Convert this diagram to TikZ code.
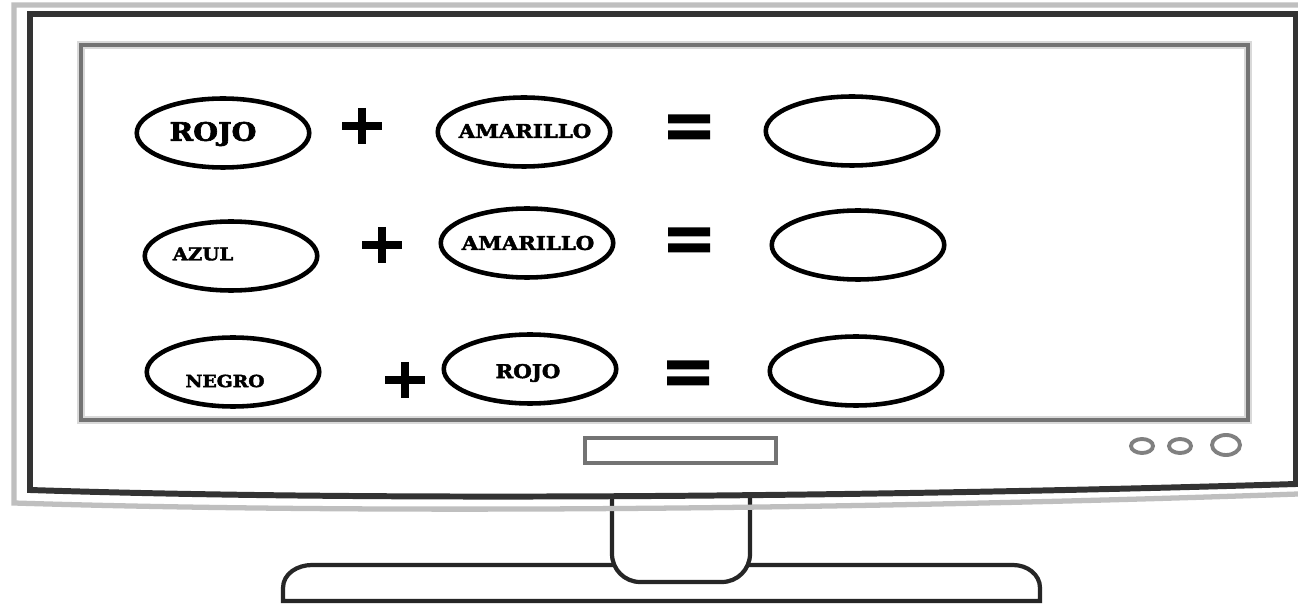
\documentclass[tikz,border=0pt]{standalone}
\usepackage{fontspec}
\newfontfamily\slabfont[FakeStretch=1.12, FakeBold=2.4]{DejaVu Serif Bold}
\usetikzlibrary{shapes.geometric}
\tikzset{
  mix oval/.style={
    ellipse, draw=black, line width=2.6pt, fill=white,
    minimum width=3.45cm, minimum height=1.38cm, inner sep=0pt
  },
  mix word/.style={
    inner sep=0pt, font=\slabfont\fontsize{10.8}{11}\selectfont
  },
  big word/.style={
    mix word, font=\slabfont\fontsize{14.5}{15}\selectfont
  },
  monitor line/.style={draw=black!80, line width=3.4pt},
  monitor shade/.style={draw=black!25, line width=3pt},
  screen line/.style={draw=black!55, line width=2.8pt},
  screen shade/.style={draw=black!15, line width=5pt},
  stand line/.style={draw=black!85, line width=2.4pt, fill=white},
  knob/.style={draw=black!50, line width=2.2pt},
  plus sign/.pic={
    \draw[line width=5pt] (-20,0) -- (20,0) (0,-18) -- (0,18);
  },
  equals sign/.pic={
    \fill (-21,-12.5) rectangle (21,-3.5) (-21,3.5) rectangle (21,12.5);
  }
}

\begin{document}
\begin{tikzpicture}[x=0.02cm, y=-0.02cm]
  \useasboundingbox (0,0) rectangle (1298,604);
  \fill[white] (0,0) rectangle (1298,604);

  % stand
  \draw[stand line] (283,601) -- (283,588) to[out=90,in=180] (312,565)
    -- (1013,565) to[out=0,in=90] (1040,588) -- (1040,601) -- cycle;
  \draw[stand line, rounded corners=16] (612,498) -- (612,582) -- (750,582) -- (750,498);

  % monitor
  \draw[monitor shade] (1298,5) -- (14,5) -- (14,503)
    .. controls (400,515) and (900,508) .. (1298,494);
  \draw[monitor line] (30,14) -- (1296,14) -- (1296,484)
    .. controls (900,496) and (400,502) .. (30,490) -- cycle;
  \draw[screen shade] (81,45) rectangle (1248,420);
  \draw[screen line] (81,45) rectangle (1248,420);
  \draw[screen line, line width=2.2pt] (585,438) rectangle (776,463);
  \draw[knob] (1142,446) ellipse [x radius=11, y radius=7];
  \draw[knob] (1180,446) ellipse [x radius=11, y radius=7];
  \draw[knob] (1226,445) ellipse [x radius=14, y radius=10];

  % first row
  \node[mix oval] (e1a) at (223,133) {};
  \node[big word] (w1a) at (213,134) {ROJO};
  \pic at (362,126) {plus sign};
  \node[mix oval] (e1b) at (524,132) {};
  \node[mix word] (w1b) at (525,131) {AMARILLO};
  \pic at (689,127) {equals sign};
  \node[mix oval] (e1c) at (852,131) {};

  % second row
  \node[mix oval] (e2a) at (231,256) {};
  \node[mix word, font=\slabfont\fontsize{10}{11}\selectfont] (w2a) at (203,254) {AZUL};
  \pic at (382,245) {plus sign};
  \node[mix oval] (e2b) at (527,243) {};
  \node[mix word] (w2b) at (528,243) {AMARILLO};
  \pic at (689,240) {equals sign};
  \node[mix oval] (e2c) at (858,245) {};

  % third row
  \node[mix oval] (e3a) at (233,372) {};
  \node[mix word, font=\slabfont\fontsize{9.5}{10}\selectfont] (w3a) at (225,381) {NEGRO};
  \pic at (405,380) {plus sign};
  \node[mix oval] (e3b) at (530,369) {};
  \node[mix word] (w3b) at (528,373) {ROJO};
  \pic at (688,373) {equals sign};
  \node[mix oval] (e3c) at (856,371) {};
\end{tikzpicture}
\end{document}
